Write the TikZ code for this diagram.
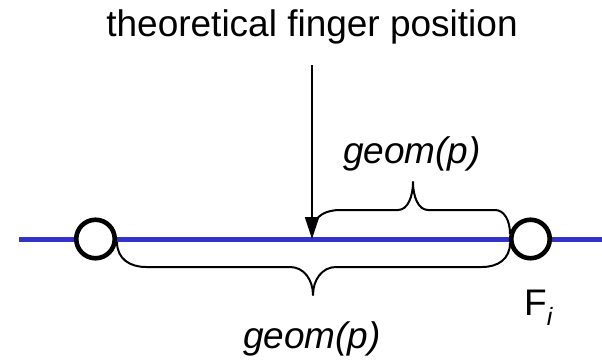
\documentclass[tikz,border=0pt]{standalone}
\usepackage{fontspec}
\setmainfont{Liberation Sans}
\usepackage{tikz}
\usetikzlibrary{arrows.meta,positioning,calc,backgrounds}
\definecolor{trackblue}{RGB}{51,51,204}

\begin{document}
\begin{tikzpicture}[
    x=1pt, y=-1pt,
    big/.style={font=\fontsize{37}{40}\selectfont, inner sep=0pt, anchor=base},
    ring/.style={circle, draw, line width=4.6pt, fill=white, minimum size=38.5pt, inner sep=0pt},
    track/.style={trackblue, line width=5pt},
    curly/.style={line width=2pt, line join=round},
    arrow/.style={-{Triangle[length=22pt,width=14pt]}, line width=2pt}
]
    \useasboundingbox (0,0) rectangle (602,359);

    % Text
    \node[big] (title) at (312,36) {theoretical finger position};
    \node[big, font=\fontsize{37}{40}\selectfont\itshape] (upgeom) at (412,163) {geom(p)};
    \node[big, font=\fontsize{37}{40}\selectfont\itshape] (lowgeom) at (312,348) {geom(p)};

    % Fingers
    \node[ring] (fleft) at (95.5,239) {};
    \node[ring] (fright) at (530.5,239) {};
    \node[big, anchor=base west] (fname) at (524,315) {F\raisebox{-10pt}{\fontsize{25}{25}\selectfont\itshape i}};

    % Line
    \coordinate (west) at (19,239);
    \coordinate (east) at (602,239);
    \begin{pgfonlayer}{background}
        \draw[track] (west) -- (east);
    \end{pgfonlayer}

    % Arrow
    \coordinate (top) at (312,65);
    \coordinate (finger) at (312,239);
    \draw[arrow] (top) -- (finger);

    % Braces
    \draw[curly] (314,228) .. controls (314,216) and (326,210) .. (340,210) -- (398,210)
        .. controls (408,210) and (413,196) .. (413,182)
        .. controls (413,196) and (418,210) .. (428,210) -- (495,210)
        .. controls (504,210) and (510,220) .. (510,234);
    \draw[curly] (117,242) .. controls (117,259) and (130,267) .. (146,267) -- (290,267)
        .. controls (304,267) and (313,280) .. (313,295)
        .. controls (313,280) and (322,267) .. (336,267) -- (482,267)
        .. controls (498,267) and (510,259) .. (510,243);
\end{tikzpicture}
\end{document}
